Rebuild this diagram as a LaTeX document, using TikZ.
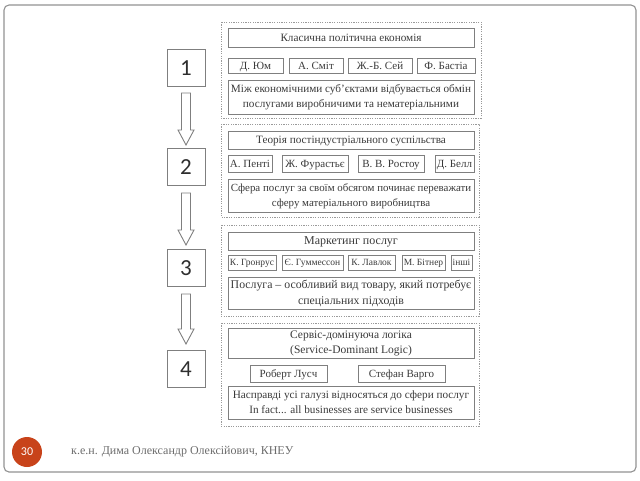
\documentclass[tikz,border=0pt]{standalone}
\usepackage{fontspec}
\setmainfont{Liberation Serif}
\newfontfamily\numfont{Carlito}
\definecolor{bord}{HTML}{7F7F7F}
\definecolor{txt}{HTML}{3A3A3A}
\definecolor{dash}{HTML}{9A9A9A}
\definecolor{badge}{HTML}{C8431A}
\newcommand{\twol}[2]{\begin{tabular}{@{}c@{}}#1\\#2\end{tabular}}
\tikzset{
  bx/.style={draw=bord, line width=0.9pt, rectangle, inner sep=0pt, text=txt, align=center,
             font=\fontsize{11.2}{15}\selectfont},
  one/.style={text height=7.6pt, text depth=0.6pt},
  nm/.style={bx, one, font=\fontsize{11}{12}\selectfont},
  nmsmall/.style={bx, text height=6.6pt, text depth=0.5pt, font=\fontsize{9.5}{10}\selectfont},
  grp/.style={draw=dash, line width=0.8pt, dash pattern=on 1.2pt off 1.2pt, rectangle},
  numbox/.style={draw=bord, line width=0.9pt, rectangle, minimum width=38pt, minimum height=37pt,
                 font=\numfont\fontsize{23}{23}\selectfont, text=txt!80!black},
  blockarrow/.style={draw=bord, line width=0.9pt, fill=white},
}
\begin{document}
\begin{tikzpicture}[x=1pt,y=-1pt]
\useasboundingbox (0,0) rectangle (640,480);
% slide frame
\draw[bord!85, line width=1.1pt, rounded corners=5pt] (4,5) rectangle (636,472);

% number boxes
\node[numbox] (n1) at (186,68) {1};
\node[numbox] (n2) at (186,167) {2};
\node[numbox] (n3) at (186,268) {3};
\node[numbox] (n4) at (186,369) {4};

% block arrows
\foreach \t/\b in {93/145, 193/245, 294/344}{
  \pgfmathsetmacro{\h}{\b-15}
  \draw[blockarrow] (181.5,\t) -- (190.5,\t) -- (190.5,\h) -- (194,\h) -- (186,\b) -- (178,\h) -- (181.5,\h) -- cycle;
}

% group 1
\draw[grp] (221,22) rectangle (481,118);
\node[bx, one, minimum width=246pt, minimum height=19pt] (t1) at (351,37.5) {Класична політична економія};
\node[nm, minimum width=55pt, minimum height=15pt] (a11) at (255.5,65.5) {Д. Юм};
\node[nm, minimum width=54pt, minimum height=15pt] (a12) at (316,65.5) {А. Сміт};
\node[nm, minimum width=64pt, minimum height=15pt] (a13) at (380,65.5) {Ж.-Б. Сей};
\node[nm, minimum width=58pt, minimum height=15pt] (a14) at (446,65.5) {Ф. Бастіа};
\node[bx, minimum width=246pt, minimum height=34pt] (d1) at (351,97) {\twol{Між економічними суб’єктами відбувається обмін}{послугами виробничими та нематеріальними}};

% group 2
\draw[grp] (221,124) rectangle (479,217);
\node[bx, one, minimum width=246pt, minimum height=18pt] (t2) at (351,140) {Теорія постіндустріального суспільства};
\node[nm, minimum width=44pt, minimum height=17pt] (a21) at (250,163.5) {А. Пенті};
\node[nm, minimum width=66pt, minimum height=17pt] (a22) at (315,163.5) {Ж. Фурастьє};
\node[nm, minimum width=66pt, minimum height=17pt] (a23) at (391,163.5) {В. В. Ростоу};
\node[nm, minimum width=39pt, minimum height=17pt] (a24) at (454.5,163.5) {Д. Белл};
\node[bx, minimum width=246pt, minimum height=33pt, font=\fontsize{10.9}{15}\selectfont] (d2) at (351,195.5) {\twol{Сфера послуг за своїм обсягом починає переважати}{сферу матеріального виробництва}};

% group 3
\draw[grp] (221,225) rectangle (479,316);
\node[bx, text height=8.3pt, text depth=0.6pt, minimum width=246pt, minimum height=18pt, font=\fontsize{12}{14}\selectfont] (t3) at (351,241) {Маркетинг послуг};
\node[nmsmall, minimum width=48pt, minimum height=15pt] (a31) at (252,262.5) {К. Гронрус};
\node[nmsmall, minimum width=61pt, minimum height=15pt] (a32) at (312.5,262.5) {Є. Гуммессон};
\node[nmsmall, minimum width=47pt, minimum height=15pt] (a33) at (371.5,262.5) {К. Лавлок};
\node[nmsmall, minimum width=43pt, minimum height=15pt] (a34) at (423.5,262.5) {М. Бітнер};
\node[nmsmall, minimum width=21pt, minimum height=15pt] (a35) at (461.5,262.5) {інші};
\node[bx, minimum width=246pt, minimum height=32pt, font=\fontsize{11.8}{16}\selectfont] (d3) at (351,293) {\twol{Послуга – особливий вид товару, який потребує}{спеціальних підходів}};

% group 4
\draw[grp] (221,323) rectangle (479,426);
\node[bx, minimum width=246pt, minimum height=30pt, font=\fontsize{11.5}{15}\selectfont] (t4) at (351,343) {\twol{Сервіс-домінуюча логіка}{(Service-Dominant Logic)}};
\node[nm, minimum width=77pt, minimum height=17pt] (a41) at (288.5,373.5) {Роберт Луcч};
\node[nm, minimum width=87pt, minimum height=17pt] (a42) at (401.5,373.5) {Стефан Варго};
\node[bx, minimum width=246pt, minimum height=33pt] (d4) at (351,402.5) {\twol{Насправді усі галузі відносяться до сфери послуг}{In fact... all businesses are service businesses}};

% footer
\node[circle, fill=badge, minimum size=30pt, inner sep=0pt, text=white, font=\numfont\fontsize{12}{12}\selectfont] (pg) at (27,452) {30};
\node[anchor=west, text=txt!75, font=\fontsize{12}{12}\selectfont, inner sep=0pt] (ft) at (71,452) {к.е.н. Дима Олександр Олексійович, КНЕУ};
\end{tikzpicture}
\end{document}
